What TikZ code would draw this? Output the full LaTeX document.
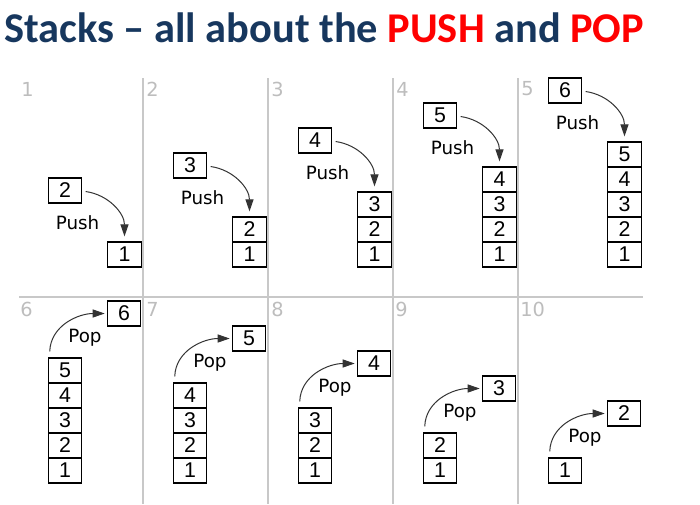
\documentclass[tikz,border=0pt]{standalone}
\usepackage{fontspec}
\setmainfont{Liberation Sans}
\newfontfamily\titlefont{Carlito}
\newfontfamily\labfont{DejaVu Sans}
\usetikzlibrary{arrows.meta}
\definecolor{navy}{HTML}{17375E}
\definecolor{sepgray}{HTML}{C8C8C8}
\definecolor{numgray}{HTML}{BDBDBD}
\definecolor{titlered}{HTML}{FF0000}
\begin{document}
\begin{tikzpicture}[x=0.75pt,y=-0.75pt,
  cell/.style={draw=black, line width=0.9pt, minimum width=25pt, minimum height=18.75pt, inner sep=0pt, font=\fontsize{16}{16}\selectfont},
  oplab/.style={inner sep=0pt, font=\labfont\fontsize{13.7}{14}\selectfont},
  pnum/.style={inner sep=0pt, anchor=west, text=numgray, font=\labfont\fontsize{14.5}{15}\selectfont},
  sep/.style={draw=sepgray, line width=1.1pt},
  flow/.style={draw=black!80, line width=0.75pt, -{Triangle[length=9pt,width=6pt]}}]
\useasboundingbox (0,0) rectangle (700,504);
% title
\node[anchor=base west, inner sep=0pt, text=navy, font=\titlefont\bfseries\fontsize{31.8}{36}\selectfont] (title) at (4,42)
  {Stacks – all about the \textcolor{titlered}{PUSH} and \textcolor{titlered}{POP}};
% separators
\foreach \xx in {143,268,393,518}{
  \draw[sep] (\xx,78) -- (\xx,504);
}
\draw[sep] (19,297) -- (643,297);
% panel numbers
\node[pnum] (p1) at (21,89) {1};
\node[pnum] (p2) at (146,89) {2};
\node[pnum] (p3) at (271,89) {3};
\node[pnum] (p4) at (396,89) {4};
\node[pnum] (p5) at (521,89) {5};
\node[pnum] (p6) at (20,309) {6};
\node[pnum] (p7) at (146,309) {7};
\node[pnum] (p8) at (271,309) {8};
\node[pnum] (p9) at (395,309) {9};
\node[pnum] (p10) at (520,309) {10};
% push panels
\foreach \k in {1,...,5}{
  \pgfmathsetmacro\cx{124.5+125*(\k-1)}
  \pgfmathsetmacro\ytop{267-25*\k}
  \foreach \i in {1,...,\k}{
    \node[cell] (s\k-\i) at (\cx, {267-12.5-25*(\i-1)}) {\i};
  }
  \pgfmathtruncatemacro\nv{\k+1}
  \node[cell] (n\k) at (\cx-59.5, \ytop-51.5) {\nv};
  \node[oplab] (l\k) at (\cx-47, \ytop-19) {Push};
  \draw[flow] ([xshift=2.5pt, yshift=-0.75pt]n\k.east) to[out=-8,in=90] ([yshift=3.75pt]s\k-\k.north);
}
% pop panels
\foreach \m in {0,...,4}{
  \pgfmathtruncatemacro\j{6+\m}
  \pgfmathtruncatemacro\nn{5-\m}
  \pgfmathtruncatemacro\pv{6-\m}
  \pgfmathsetmacro\cx{65+125*\m}
  \pgfmathsetmacro\ytop{483-25*\nn}
  \foreach \i in {1,...,\nn}{
    \node[cell] (b\j-\i) at (\cx, {483-12.5-25*(\i-1)}) {\i};
  }
  \node[cell] (r\j) at (\cx+59, \ytop-44.5) {\pv};
  \node[oplab] (q\j) at (\cx+20, \ytop-20) {Pop};
  \draw[flow] ([xshift=1.5pt, yshift=4.5pt]b\j-\nn.north west) to[out=88,in=180] ([xshift=-1.5pt]r\j.west);
}
\end{tikzpicture}
\end{document}
